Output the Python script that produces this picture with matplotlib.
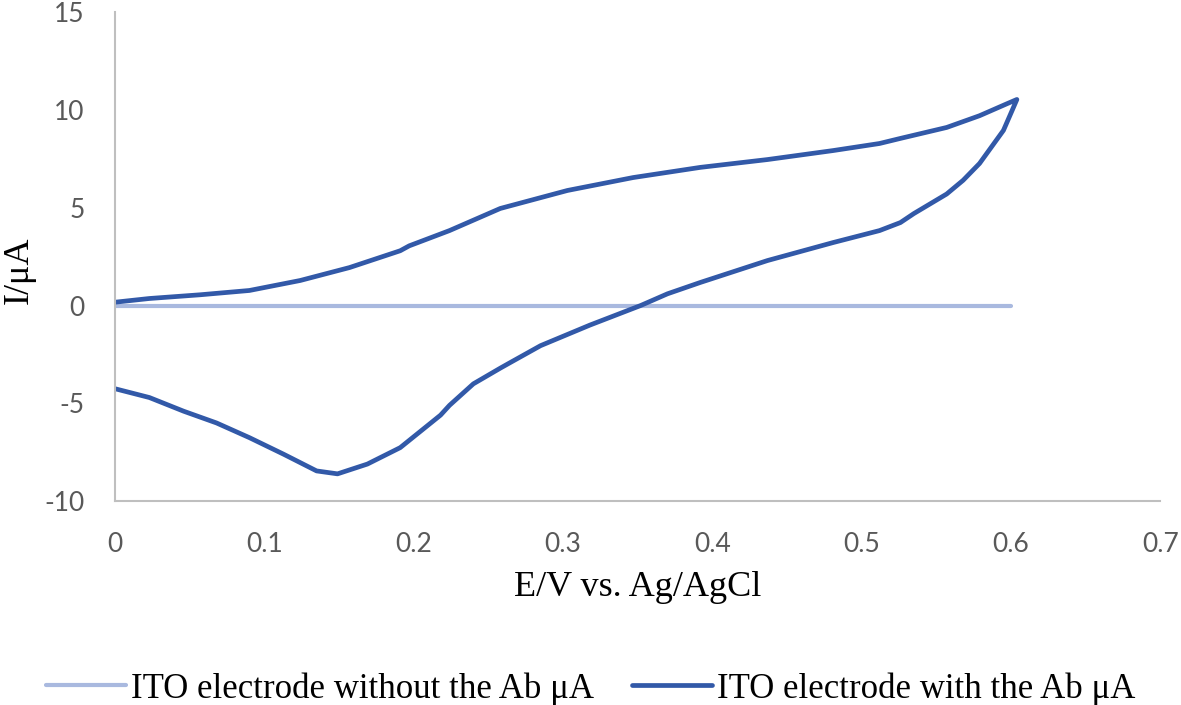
import numpy as np
import matplotlib.pyplot as plt

plt.rcParams['axes.unicode_minus'] = False

# forward scan (0 -> 0.6 V)
E_fwd = [0, 0.023, 0.057, 0.09, 0.124, 0.157, 0.191, 0.197, 0.224, 0.258,
         0.303, 0.347, 0.392, 0.437, 0.481, 0.512, 0.526, 0.557, 0.579, 0.597, 0.604]
I_fwd = [0.17, 0.36, 0.55, 0.77, 1.28, 1.94, 2.8, 3.05, 3.83, 4.96,
         5.88, 6.54, 7.06, 7.46, 7.92, 8.28, 8.54, 9.1, 9.7, 10.3, 10.53]

# reverse scan (0.6 -> 0 V)
E_rev = [0.604, 0.601, 0.595, 0.579, 0.568, 0.557, 0.535, 0.526, 0.512, 0.481,
         0.437, 0.392, 0.37, 0.352, 0.318, 0.285, 0.265, 0.258, 0.240, 0.224,
         0.218, 0.191, 0.169, 0.149, 0.135, 0.113, 0.09, 0.068, 0.046, 0.023, 0]
I_rev = [10.53, 10.0, 8.95, 7.26, 6.4, 5.7, 4.7, 4.24, 3.83, 3.22,
         2.3, 1.18, 0.6, 0.0, -1.0, -2.05, -2.9, -3.2, -4.0, -5.1,
         -5.6, -7.26, -8.1, -8.6, -8.45, -7.6, -6.75, -6.0, -5.4, -4.7, -4.25]

# bare electrode
E_bare = [0, 0.6]
I_bare = [0, 0]

E_ab = E_fwd + E_rev
I_ab = I_fwd + I_rev

fig = plt.figure(figsize=(11.81, 7.05), dpi=100)
ax = fig.add_axes([0.0974, 0.289, 0.885, 0.694])

ax.plot(E_bare, I_bare, color='#A9B9DF', linewidth=3.0,
        label='ITO electrode without the Ab μA', solid_capstyle='round')
ax.plot(E_ab, I_ab, color='#3259A8', linewidth=3.4,
        label='ITO electrode with the Ab μA', solid_capstyle='round',
        solid_joinstyle='round')

ax.set_xlim(0, 0.7)
ax.set_ylim(-10, 15)
ax.set_xticks(np.arange(0, 0.71, 0.1))
ax.set_xticklabels(['0', '0.1', '0.2', '0.3', '0.4', '0.5', '0.6', '0.7'])
ax.set_yticks([-10, -5, 0, 5, 10, 15])

for s in ['top', 'right']:
    ax.spines[s].set_visible(False)
for s in ['left', 'bottom']:
    ax.spines[s].set_color('#BFBFBF')
    ax.spines[s].set_linewidth(1.5)

ax.tick_params(length=0, labelsize=19, labelcolor='#595959')
ax.tick_params(axis='x', pad=22)
ax.tick_params(axis='y', pad=22)
for t in ax.get_xticklabels() + ax.get_yticklabels():
    t.set_family(['Lato', 'DejaVu Sans'])

ax.set_xlabel('E/V vs. Ag/AgCl', fontsize=26, family='Liberation Serif', labelpad=10)
fig.text(0.016, 0.617, 'I/μA', rotation=90, fontsize=26, family='Liberation Serif',
         ha='center', va='center')

fig.legend(loc='center', bbox_to_anchor=(0.5, 0.023), ncol=2, frameon=False,
           prop={'family': 'Liberation Serif', 'size': 25},
           handlelength=2.3, columnspacing=1.1, handletextpad=0.15)

fig.savefig('out.png', dpi=100)
